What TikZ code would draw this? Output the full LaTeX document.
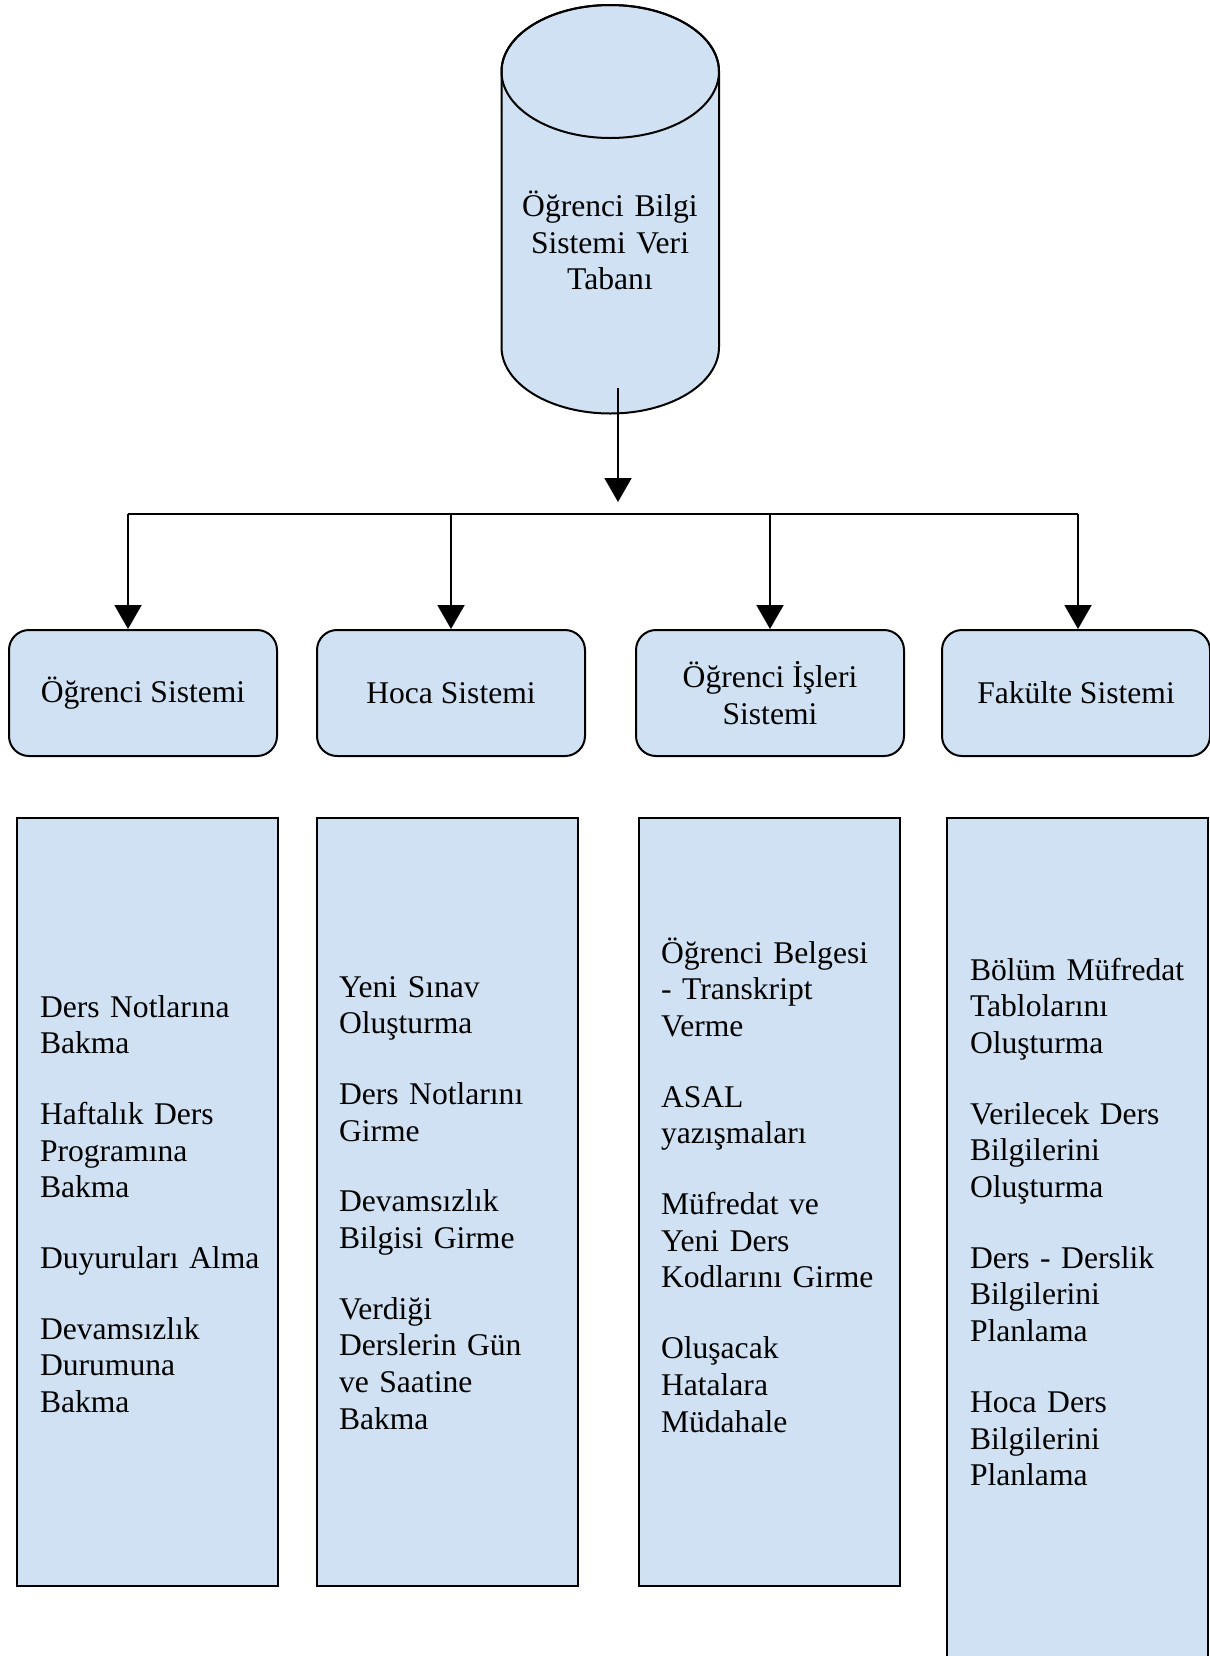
\documentclass[tikz,border=0pt]{standalone}
\usepackage{fontspec}
\setmainfont{Liberation Serif}
\usetikzlibrary{arrows.meta}
\definecolor{boxblue}{RGB}{207,225,242}

\begin{document}
\begin{tikzpicture}[x=0.5pt,y=-0.5pt,line width=1pt,
  font=\fontsize{15.8pt}{18.35pt}\selectfont,
  sysbox/.style={draw,fill=boxblue,rounded corners=10pt,minimum width=134pt,minimum height=63pt,align=center,inner sep=0pt},
  listbox/.style={draw,fill=boxblue,minimum width=130.5pt,inner sep=0pt},
  listtext/.style={anchor=base west,text width=125pt,align=left,inner sep=0pt},
  conn/.style={-{Triangle[width=13.5pt,length=12pt]}}]
\useasboundingbox (0,0) rectangle (1210,1656);
% database
\filldraw[fill=boxblue] (501.5,71.5) -- (501.5,347) arc[start angle=180,end angle=360,x radius=54.375pt,y radius=33.25pt] -- (719,71.5) arc[start angle=0,end angle=180,x radius=54.375pt,y radius=33.25pt] -- cycle;
\draw (610.25,71.5) ellipse [x radius=54.375pt,y radius=33.25pt];
\node[anchor=base,text width=100pt,align=center,inner sep=0pt] (db) at (610,216.5) {Öğrenci Bilgi\\Sistemi Veri\\Tabanı};
\coordinate (dbout) at (618,388);
\coordinate (split) at (618,502);
\draw[conn] (dbout) -- (split);
% bus
\coordinate (busL) at (128,514);
\coordinate (busR) at (1078,514);
\draw (busL) -- (busR);
% systems
\node[sysbox] (ogr) at (143,693) {Öğrenci Sistemi};
\node[sysbox] (hoca) at (451,693) {Hoca Sistemi};
\node[sysbox] (isl) at (770,693) {Öğrenci İşleri\\Sistemi};
\node[sysbox] (fak) at (1076,693) {Fakülte Sistemi};
\draw[conn] (busL) -- (busL |- ogr.north);
\foreach \n in {hoca,isl}
  \draw[conn] (\n.north |- busL) -- (\n.north);
\draw[conn] (busR) -- (busR |- fak.north);
% lists
\node[listbox,minimum height=384pt] (l1) at (147.5,1202) {};
\node[listbox,minimum height=384pt] (l2) at (447.5,1202) {};
\node[listbox,minimum height=384pt] (l3) at (769.5,1202) {};
\node[listbox,minimum height=441pt] (l4) at (1077.75,1259) {};
\node[listtext] (t1) at (39,1017) {Ders Notlarına\\Bakma\\[17pt]Haftalık Ders\\Programına\\Bakma\\[17pt]Duyuruları Alma\\[17pt]Devamsızlık\\Durumuna\\Bakma};
\node[listtext] (t2) at (338,997) {Yeni Sınav\\Oluşturma\\[17pt]Ders Notlarını\\Girme\\[17pt]Devamsızlık\\Bilgisi Girme\\[17pt]Verdiği\\Derslerin Gün\\ve Saatine\\Bakma};
\node[listtext] (t3) at (660,963) {Öğrenci Belgesi\\- Transkript\\Verme\\[17pt]ASAL\\yazışmaları\\[17pt]Müfredat ve\\Yeni Ders\\Kodlarını Girme\\[17pt]Oluşacak\\Hatalara\\Müdahale};
\node[listtext] (t4) at (969,980) {Bölüm Müfredat\\Tablolarını\\Oluşturma\\[17pt]Verilecek Ders\\Bilgilerini\\Oluşturma\\[17pt]Ders - Derslik\\Bilgilerini\\Planlama\\[17pt]Hoca Ders\\Bilgilerini\\Planlama};
\end{tikzpicture}
\end{document}
